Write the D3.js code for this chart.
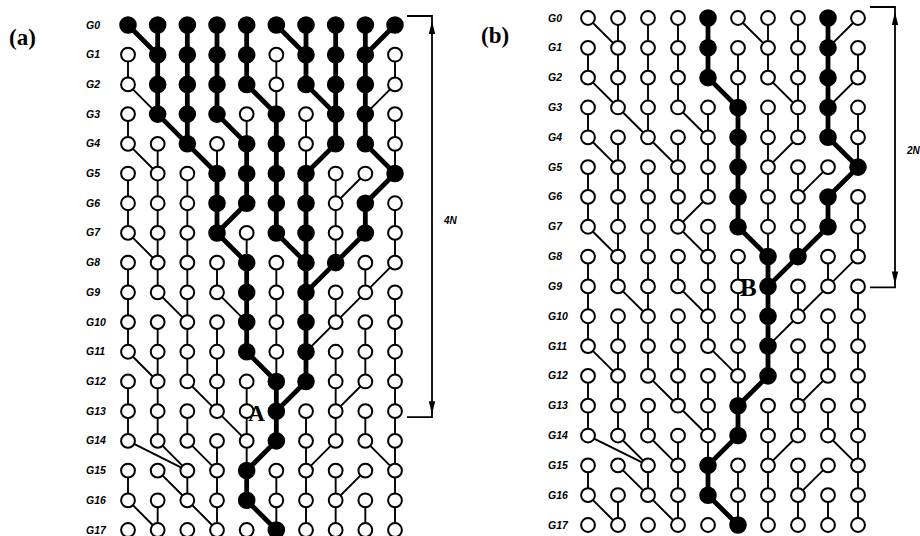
<!DOCTYPE html>
<html>
<head>
<meta charset="utf-8">
<script src="https://cdn.jsdelivr.net/npm/d3@7"></script>
<style>
  body { margin: 0; background: #fff; }
  text { fill: #000; }
</style>
</head>
<body>
<svg id="chart" width="920" height="536"></svg>
<script>
// generations and individuals (columns)
const generations = d3.range(18).map(g => "G" + g);
const columns = d3.range(10);

// parent column (in the next generation) of each individual, for G0..G16
const parentCol = [
  [1, 1, 2, 3, 4, 6, 6, 7, 8, 8],
  [0, 1, 2, 3, 4, 5, 6, 7, 8, 9],
  [1, 1, 2, 3, 5, 5, 7, 7, 8, 8],
  [0, 2, 2, 4, 4, 5, 6, 7, 8, 9],
  [1, 1, 3, 3, 4, 5, 6, 6, 9, 9],
  [0, 1, 2, 3, 4, 5, 6, 7, 7, 8],
  [0, 1, 2, 3, 3, 5, 6, 7, 8, 9],
  [1, 1, 2, 4, 4, 6, 6, 7, 7, 9],
  [0, 1, 2, 3, 4, 5, 6, 6, 8, 8],
  [0, 2, 2, 4, 4, 5, 6, 7, 7, 9],
  [0, 1, 2, 3, 4, 5, 6, 6, 8, 9],
  [1, 1, 2, 3, 5, 5, 6, 7, 8, 9],
  [0, 1, 3, 3, 4, 5, 5, 7, 7, 9],
  [0, 1, 2, 4, 4, 5, 6, 7, 8, 9],
  [2, 2, 3, 3, 4, 4, 6, 6, 9, 9],
  [0, 2, 2, 3, 4, 5, 6, 7, 7, 9],
  [1, 1, 3, 3, 5, 5, 6, 7, 8, 9]
];

// traced samples in G0 for each panel
const samplesA = [0, 1, 2, 3, 4, 5, 6, 7, 8, 9];
const samplesB = [4, 8];

// panel texts
const panelNames = ["(a)", "(b)"];
const mrcaNames = ["A", "B"];
const spanNames = ["4N", "2N"];
const spanEnds = ["G13", "G9"];

const svg = d3.select("#chart");

function ancestry(samples) {
  // filled[g] = set of columns that are ancestors of the samples
  const filled = [new Set(samples)];
  parentCol.forEach((row, g) => {
    filled.push(new Set([...filled[g]].map(i => row[i])));
  });
  return filled;
}

function drawPanel(opt) {
  const x = d3.scalePoint().domain(columns).range(opt.xr);
  const y = d3.scalePoint().domain(generations).range(opt.yr);
  const filled = ancestry(opt.samples);
  const g = svg.append("g");

  // links child -> parent
  const links = [];
  parentCol.forEach((row, gi) => {
    row.forEach((p, i) => links.push({ g: gi, i, p, hot: filled[gi].has(i) }));
  });
  g.append("g").selectAll("line")
    .data(links.sort((a, b) => a.hot - b.hot))
    .join("line")
    .attr("x1", d => x(d.i)).attr("y1", d => y(generations[d.g]))
    .attr("x2", d => x(d.p)).attr("y2", d => y(generations[d.g + 1]))
    .attr("stroke", "#000")
    .attr("stroke-width", d => d.hot ? 4.8 : 1.9)
    .attr("stroke-linecap", "round");

  // nodes
  const nodes = [];
  generations.forEach((gen, gi) => columns.forEach(i => nodes.push({ gen, i, hot: filled[gi].has(i) })));
  g.append("g").selectAll("circle")
    .data(nodes)
    .join("circle")
    .attr("cx", d => x(d.i)).attr("cy", d => y(d.gen))
    .attr("r", d => d.hot ? 7.8 : 6.9)
    .attr("fill", d => d.hot ? "#000" : "#fff")
    .attr("stroke", "#000")
    .attr("stroke-width", 2);

  // generation labels
  g.append("g").selectAll("text")
    .data(generations)
    .join("text")
    .attr("x", opt.labelX).attr("y", d => y(d) + 3.5)
    .attr("font-family", "Liberation Sans, Arial, sans-serif")
    .attr("font-size", 10.5).attr("font-weight", "bold").attr("font-style", "italic")
    .text(d => d);

  // panel name
  g.append("text")
    .attr("x", opt.nameX).attr("y", opt.nameY)
    .attr("font-family", "Liberation Serif, Times New Roman, serif")
    .attr("font-size", 23).attr("font-weight", "bold")
    .text(opt.name);

  // MRCA letter
  g.append("text")
    .attr("x", x(opt.mrca.col) - 28).attr("y", y(opt.mrca.gen) + 10)
    .attr("font-family", "Liberation Serif, Times New Roman, serif")
    .attr("font-size", opt.mrca.size).attr("font-weight", "bold")
    .text(opt.mrca.text);

  // bracket with arrows
  const top = y("G0") - opt.topOff, bot = y(opt.spanEnd) + opt.botOff;
  const vx = x(9) + opt.bx, x0 = x(9) + 12;
  g.append("path")
    .attr("d", `M${x0},${top}H${vx}V${bot}H${x0}`)
    .attr("fill", "none").attr("stroke", "#000").attr("stroke-width", 1.8);
  g.append("path")
    .attr("d", `M${vx},${top + 5}L${vx - 3.2},${top + 18}L${vx + 3.2},${top + 18}Z` +
               `M${vx},${bot - 3}L${vx - 3.2},${bot - 16}L${vx + 3.2},${bot - 16}Z`)
    .attr("fill", "#000");
  g.append("text")
    .attr("x", vx + 12).attr("y", (top + bot) / 2 + 7)
    .attr("font-family", "Liberation Sans, Arial, sans-serif")
    .attr("font-size", 10).attr("font-weight", "bold").attr("font-style", "italic")
    .text(opt.span);
}

drawPanel({
  xr: [128, 395], yr: [25, 530], samples: samplesA,
  labelX: 86, name: panelNames[0], nameX: 9, nameY: 45,
  mrca: { col: 5, gen: "G13", text: mrcaNames[0], size: 23 },
  spanEnd: spanEnds[0], span: spanNames[0], topOff: 9, botOff: 6, bx: 37
});
drawPanel({
  xr: [588, 858], yr: [18, 525], samples: samplesB,
  labelX: 548, name: panelNames[1], nameX: 481, nameY: 43,
  mrca: { col: 6, gen: "G9", text: mrcaNames[1], size: 25 },
  spanEnd: spanEnds[1], span: spanNames[1], topOff: 11, botOff: 1, bx: 37
});
</script>
</body>
</html>
